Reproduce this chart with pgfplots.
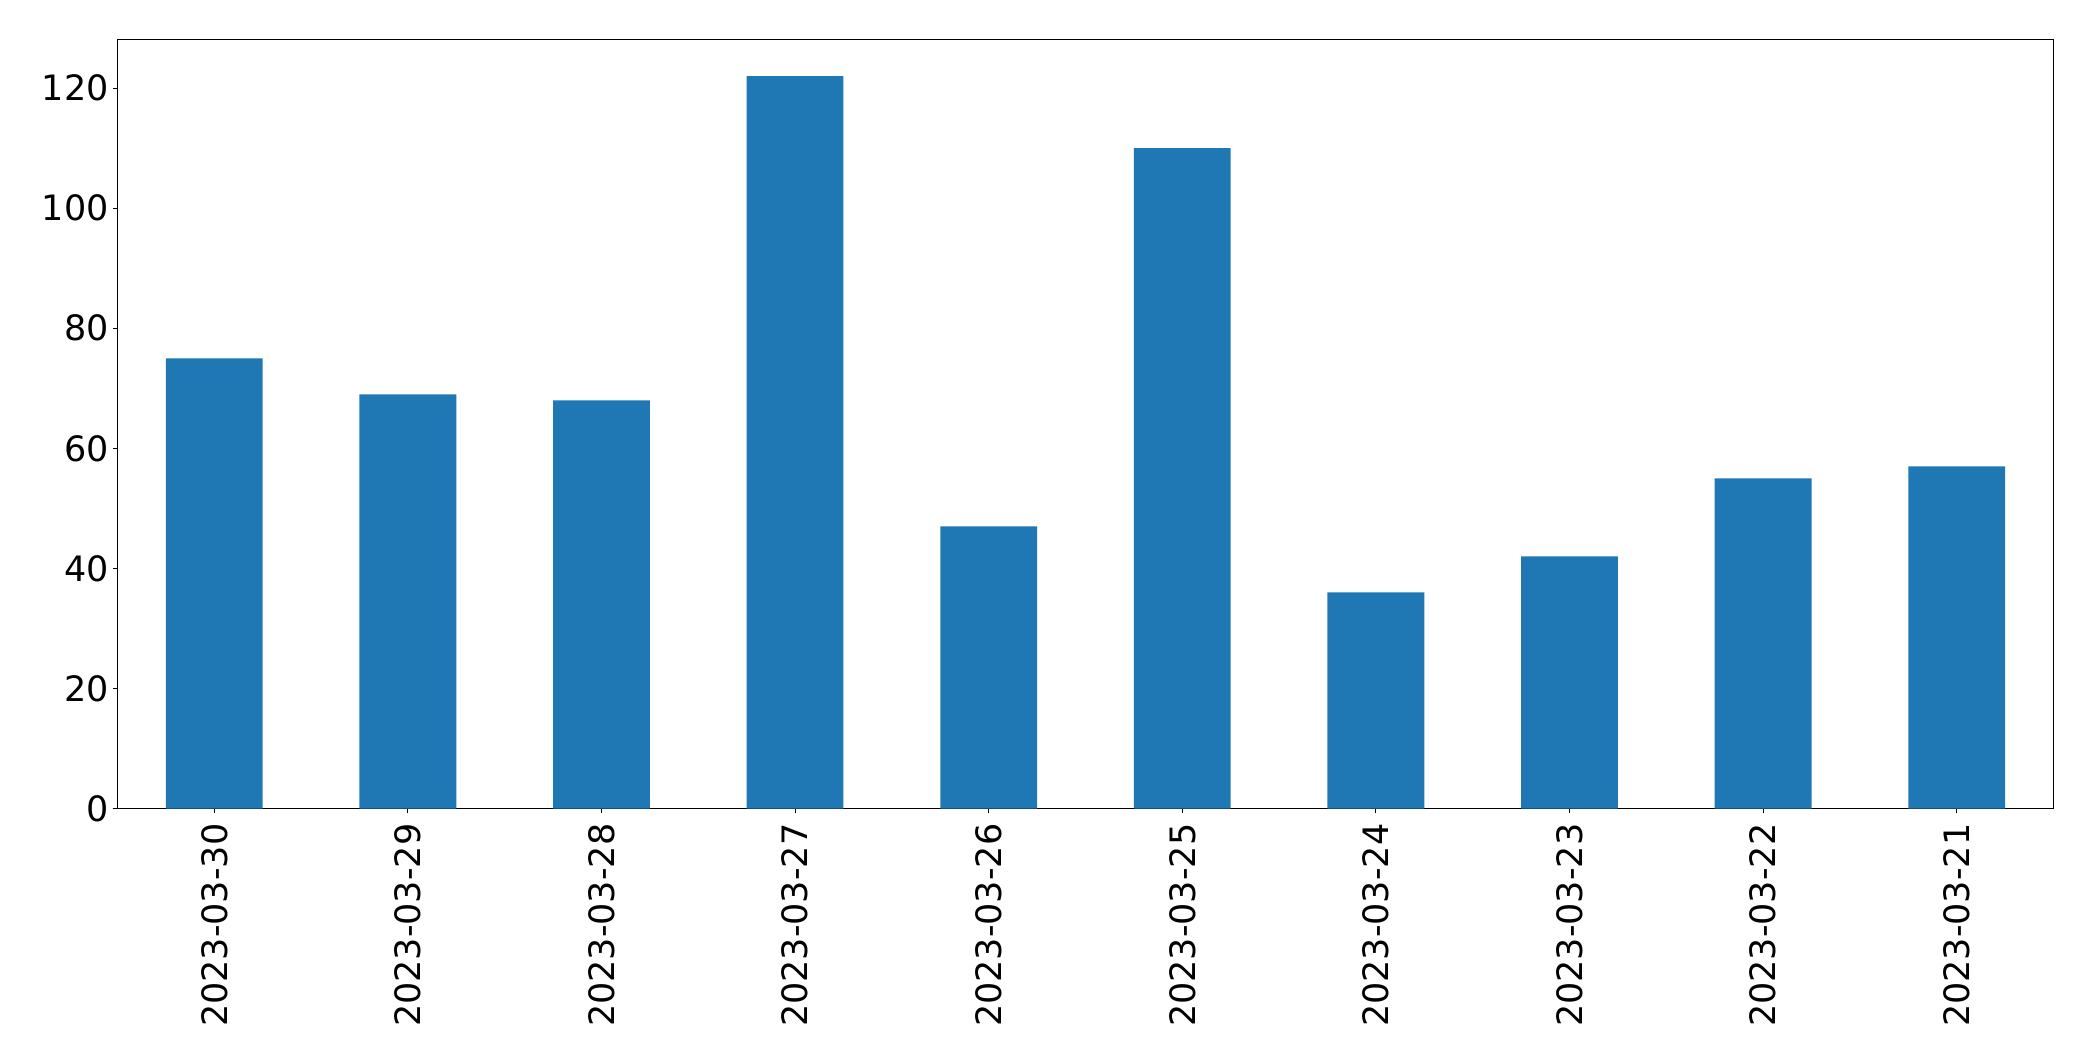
\documentclass[border=0pt]{standalone}
\usepackage{pgfplots}
\pgfplotsset{compat=1.18}
\usepackage{fontspec}
\setmainfont{DejaVu Sans}
\definecolor{mplblue}{HTML}{1F77B4}
\begin{document}
\begin{tikzpicture}
\begin{axis}[
  width=969pt, height=384.9pt,
  scale only axis,
  xmin=-0.5, xmax=9.5,
  ymin=0, ymax=128.1,
  xtick={0,...,9},
  xticklabels={2023-03-30,2023-03-29,2023-03-28,2023-03-27,2023-03-26,2023-03-25,2023-03-24,2023-03-23,2023-03-22,2023-03-21},
  ytick={0,20,40,60,80,100,120},
  tick align=outside,
  major tick length=2.4pt,
  axis line style={line width=0.55pt},
  every tick/.style={line width=0.55pt, black},
  xtick pos=bottom, ytick pos=left,
  /pgf/number format/assume math mode=true,
  tick label style={font=\fontsize{17.5pt}{20pt}\selectfont},
  xticklabel style={rotate=90, anchor=east, inner sep=0pt, xshift=-5pt},
  yticklabel style={inner sep=0pt, xshift=-1.8pt},
  axis background/.style={fill=white},
]
\addplot[ybar, bar width=0.5, fill=mplblue, draw=none] coordinates {
(0,75) (1,69) (2,68) (3,122) (4,47) (5,110) (6,36) (7,42) (8,55) (9,57)
};
\end{axis}
\path (current bounding box.south west) ++(-21pt,-17pt) coordinate (a);
\path (current bounding box.north east) ++(19.5pt,19.5pt) coordinate (b);
\path (a) rectangle (b);
\end{tikzpicture}
\end{document}
